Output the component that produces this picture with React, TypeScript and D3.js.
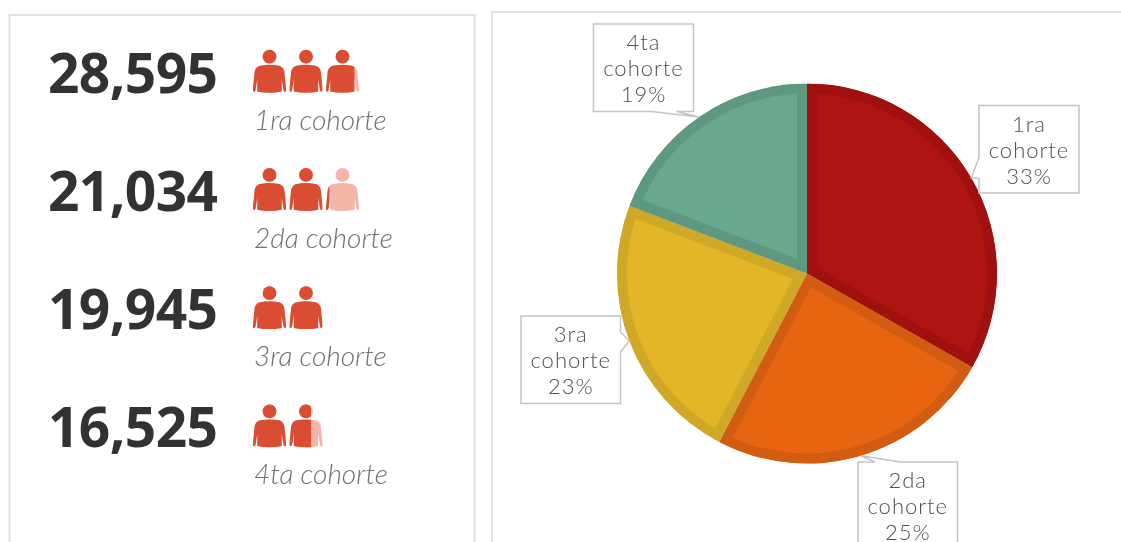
import React from "react";
import * as d3 from "d3";

const cohorts = ["1ra cohorte", "2da cohorte", "3ra cohorte", "4ta cohorte"];
const cohortLines = [["1ra", "cohorte"], ["2da", "cohorte"], ["3ra", "cohorte"], ["4ta", "cohorte"]];
const values = [28595, 21034, 19945, 16525];
const shownPercents = ["33%", "25%", "23%", "19%"];
const fills = ["#ae1410", "#e86410", "#e2b626", "#68a98e"];
const strokes = ["#a0100e", "#d25c12", "#cea826", "#5e9880"];
const unitPerIcon = 10000;

const W = 1121, H = 542;
const cx = 807, cy = 273.5, R = 190;
const boxes = [
  { x: 979, y: 105.5, w: 100, h: 87.5, gapA: 52, gapB: 73, side: "left" },
  { x: 858, y: 462, w: 99.5, h: 88, gapA: 17, gapB: 42, side: "top" },
  { x: 521, y: 316, w: 99.5, h: 87.5, gapA: 16, gapB: 36, side: "right" },
  { x: 593.5, y: 24, w: 100, h: 87.5, gapA: 58, gapB: 83, side: "bottom" },
];

const bodyPath =
  "M-8,8.8 Q-13.5,9.5 -14.8,14.5 L-16.6,33 Q-16.6,35.4 -15,35 Q-14,34.6 -13.7,32 L-12.2,22 L-12.2,34.8 Q0,37.2 12.2,34.8 L12.2,22 L13.7,32 Q14,34.6 15,35 Q16.6,35.4 16.6,33 L14.8,14.5 Q13.5,9.5 8,8.8 Q0,7.4 -8,8.8 Z";

function Person({ x, y, frac, id }: { x: number; y: number; frac: number; id: string }) {
  const left = -16.6, width = 33.2;
  return (
    <g transform={`translate(${x},${y})`}>
      <clipPath id={id}>
        <rect x={left} y={-10} width={width * frac} height={50} />
      </clipPath>
      <circle r={6.9} fill="#f2b5a8" />
      <path d={bodyPath} fill="#f2b5a8" />
      <g clipPath={`url(#${id})`}>
        <circle r={6.9} fill="#da4e33" />
        <path d={bodyPath} fill="#da4e33" />
      </g>
    </g>
  );
}

function calloutPath(b: (typeof boxes)[number], tip: [number, number]) {
  const { x, y, w, h, gapA, gapB, side } = b;
  const r = x + w, t = y + h;
  const T = `${tip[0]},${tip[1]}`;
  if (side === "left")
    return `M${x},${y} H${r} V${t} H${x} V${y + gapB} L${T} L${x},${y + gapA} Z`;
  if (side === "right")
    return `M${x},${y} H${r} V${y + gapA} L${T} L${r},${y + gapB} V${t} H${x} Z`;
  if (side === "top")
    return `M${x},${y} H${x + gapA} L${T} L${x + gapB},${y} H${r} V${t} H${x} Z`;
  return `M${x},${y} H${r} V${t} H${x + gapB} L${T} L${x + gapA},${t} H${x} Z`;
}

export default function App() {
  const pie = d3.pie<number>().sort(null)(values);
  const arc = d3.arc<d3.PieArcDatum<number>>().innerRadius(0).outerRadius(R);
  const rowY = d3.scaleLinear().domain([0, 1]).range([92.7, 210.9]);
  const labelY = d3.scaleLinear().domain([0, 1]).range([130, 248]);

  return (
    <svg width={W} height={H} style={{ position: "absolute", left: 0, top: 0, display: "block" }}>
      <defs>
        <filter id="soft" x="-5%" y="-5%" width="110%" height="110%">
          <feGaussianBlur stdDeviation="0.45" />
        </filter>
        <filter id="softer" x="-5%" y="-5%" width="110%" height="110%">
          <feGaussianBlur stdDeviation="0.25" />
        </filter>
      </defs>
      <rect width={W} height={H} fill="#fff" />
      <rect x={9.5} y={15} width={465} height={560} fill="#fff" stroke="#e2e2e2" strokeWidth={2} />
      <rect x={492} y={12} width={700} height={560} fill="#fff" stroke="#e2e2e2" strokeWidth={2} />

      <g filter="url(#soft)">
        {values.map((v, i) => {
          const units = v / unitPerIcon;
          const count = Math.ceil(units - 0.02);
          const y = rowY(i);
          return (
            <g key={cohorts[i]}>
              <text x={48} y={y} fontFamily="'Open Sans', sans-serif" fontWeight={700} fontSize={55} letterSpacing={-0.6} fill="#333">
                {d3.format(",")(v)}
              </text>
              {d3.range(count).map((k) => (
                <Person
                  key={k}
                  id={`p${i}-${k}`}
                  x={269.5 + k * 36.5}
                  y={y - 36}
                  frac={Math.max(0, Math.min(1, units - k))}
                />
              ))}
              <text x={254} y={labelY(i)} fontFamily="Lato, sans-serif" fontWeight={300} fontStyle="italic" fontSize={28} fill="#707070">
                {cohorts[i]}
              </text>
            </g>
          );
        })}
      </g>

      <g transform={`translate(${cx},${cy})`}>
        {pie.map((d, i) => (
          <g key={i}>
            <clipPath id={`s${i}`}>
              <path d={arc(d) as string} />
            </clipPath>
            <path
              d={arc(d) as string}
              fill={fills[i]}
              stroke={strokes[i]}
              strokeWidth={20}
              strokeLinejoin="miter"
              clipPath={`url(#s${i})`}
            />
          </g>
        ))}
      </g>

      {pie.map((d, i) => {
        const mid = (d.startAngle + d.endAngle) / 2;
        const tip: [number, number] = [cx + R * Math.sin(mid), cy - R * Math.cos(mid)];
        const b = boxes[i];
        const tx = b.x + b.w / 2;
        const lines = [...cohortLines[i], shownPercents[i]];
        return (
          <g key={i}>
            <path d={calloutPath(b, tip)} fill="#fff" stroke="#c4c4c4" strokeWidth={1.5} />
            <g filter="url(#softer)">
              {lines.map((t, k) => (
                <text
                  key={k}
                  x={tx}
                  y={b.y + 26 + k * 26}
                  textAnchor="middle"
                  fontFamily="Lato, sans-serif"
                  fontWeight={300}
                  fontSize={22}
                  letterSpacing={1}
                  fill="#4f4f4f"
                >
                  {t}
                </text>
              ))}
            </g>
          </g>
        );
      })}
    </svg>
  );
}
